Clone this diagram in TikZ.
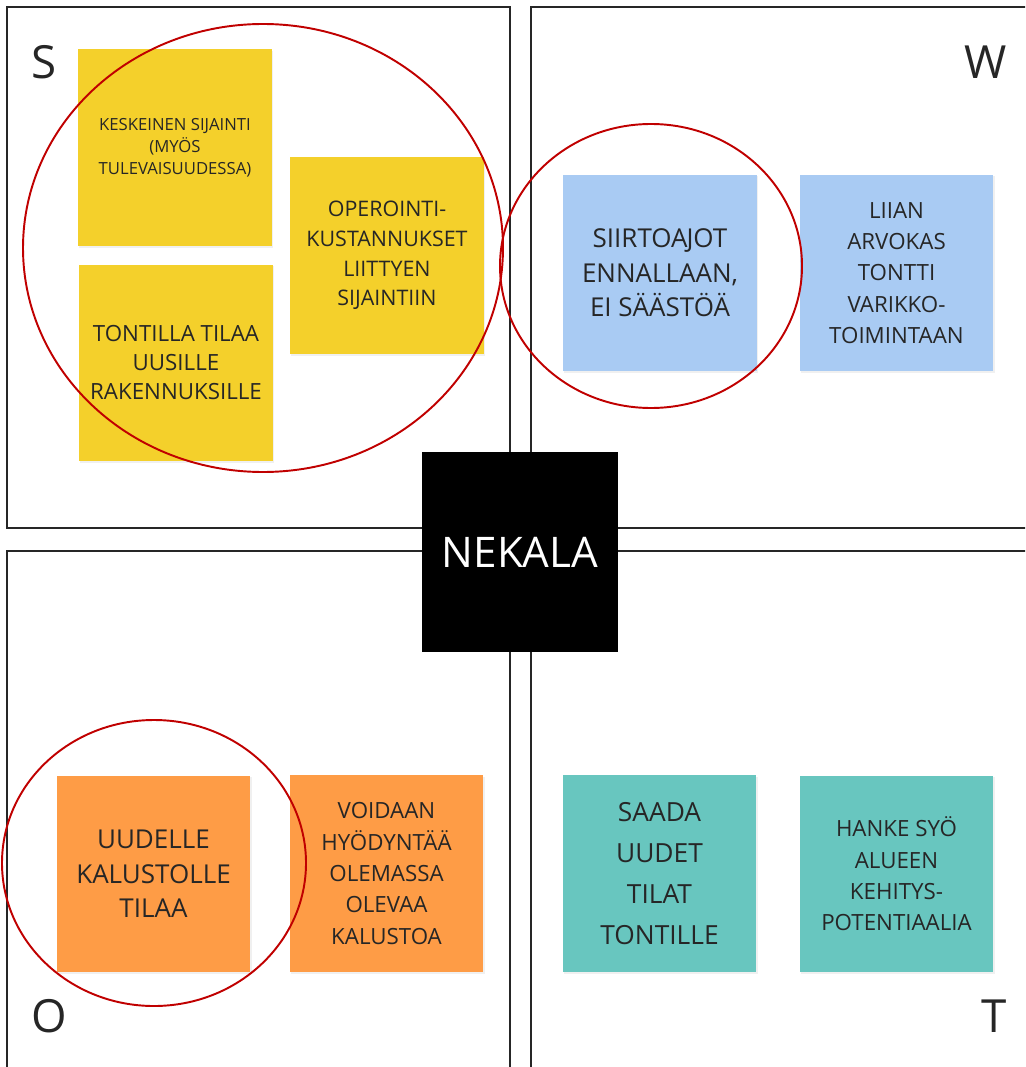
\documentclass[tikz,border=0pt]{standalone}
\usepackage{fontspec}
\setmainfont{Open Sans}
\usetikzlibrary{shadows}
\definecolor{noteyellow}{HTML}{F4D02B}
\definecolor{noteblue}{HTML}{A9CBF3}
\definecolor{noteorange}{HTML}{FE9C46}
\definecolor{noteteal}{HTML}{68C6BF}
\definecolor{ringred}{HTML}{C00000}

\begin{document}
\begin{tikzpicture}
[x=0.02cm,y=-0.02cm,
 quad/.style={draw=black!85,line width=1.1pt},
 note/.style={minimum width=3.88cm,minimum height=3.94cm,inner sep=0pt,
   align=center,text=black!85,
   drop shadow={opacity=0.12,shadow xshift=0.6pt,shadow yshift=-0.9pt}},
 ring/.style={draw=ringred,line width=1.1pt},
 letter/.style={font=\fontsize{26}{30}\selectfont,text=black!85,inner sep=0pt},
 tiny/.style={font=\fontsize{9.5}{12.5}\selectfont},
 mid/.style={font=\fontsize{12.7}{17.8}\selectfont},
 big/.style={font=\fontsize{14.8}{19.7}\selectfont}]
\useasboundingbox (0,0) rectangle (1025,1067);
\clip (0,0) rectangle (1025,1067);

% quadrants
\draw[quad] (7,7) rectangle (510,528);
\draw[quad] (531,7) rectangle (1040,528);
\draw[quad] (7,551) rectangle (510,1080);
\draw[quad] (531,551) rectangle (1040,1080);

% S
\node[note,fill=noteyellow,tiny] (keskeinen) at (175,147.5) {KESKEINEN SIJAINTI\\(MYÖS\\TULEVAISUUDESSA)};
\node[note,fill=noteyellow,mid,font=\fontsize{12.7}{16.5}\selectfont] (tontilla) at (176,363) {TONTILLA TILAA\\UUSILLE\\RAKENNUKSILLE};
\node[note,fill=noteyellow,font=\fontsize{12.2}{16.8}\selectfont] (operointi) at (387,255.5) {OPEROINTI-\\KUSTANNUKSET\\LIITTYEN\\SIJAINTIIN};
% W
\node[note,fill=noteblue,big] (siirtoajot) at (660,273) {SIIRTOA\kern-0.04em JOT\\ENNALLAAN,\\EI SÄÄSTÖÄ};
\node[note,fill=noteblue,mid] (liian) at (896.5,273) {LIIAN\\ARVOKAS\\TONTTI\\VARIKKO-\\TOIMINTAAN};
% O
\node[note,fill=noteorange,big] (uudelle) at (153.5,874) {UUDELLE\\KALUSTOLLE\\TILAA};
\node[note,fill=noteorange,mid] (voidaan) at (386.5,873.5) {VOIDAAN\\HYÖDYNTÄÄ\\OLEMASSA\\OLEVAA\\KALUSTOA};
% T
\node[note,fill=noteteal,font=\fontsize{15}{23.3}\selectfont] (saada) at (659.5,873.5) {SAADA\\UUDET\\TILAT\\TONTILLE};
\node[note,fill=noteteal,mid] (hanke) at (896.5,874) {HANKE SYÖ\\ALUEEN\\KEHITYS-\\POTENTIAALIA};

\node[fill=black,text=white,minimum width=3.94cm,minimum height=4cm,inner sep=0pt,
  font=\fontsize{24}{28}\selectfont] (nekala) at (520,552) {NEKALA};

\draw[ring] (263,248) ellipse [x radius=240,y radius=224];
\draw[ring] (651,266) ellipse [x radius=151,y radius=142];
\draw[ring] (154,863) ellipse [x radius=152,y radius=143];

\node[letter] (labS) at (44,62) {S};
\node[letter] (labW) at (986,62) {W};
\node[letter] (labO) at (49.5,1016) {O};
\node[letter] (labT) at (994.5,1016) {T};
\end{tikzpicture}
\end{document}
